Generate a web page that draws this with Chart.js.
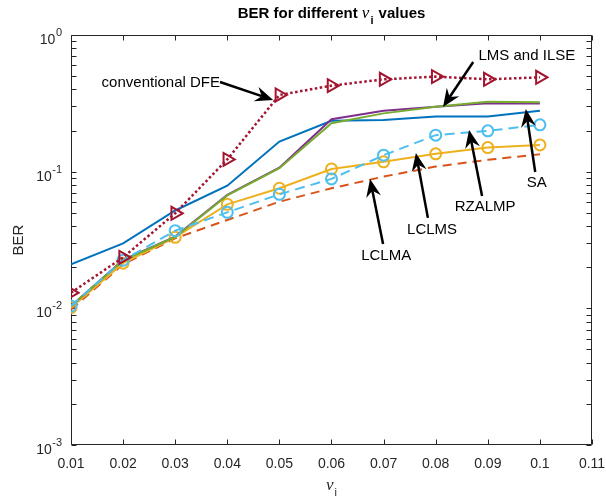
<!DOCTYPE html>
<html><head><meta charset="utf-8">
<script src="https://cdn.jsdelivr.net/npm/chart.js@4.4.1/dist/chart.umd.min.js"></script>
<style>html,body{margin:0;padding:0;background:#fff}#wrap{width:606px;height:502px;position:relative}</style>
</head><body>
<div id="wrap"><canvas id="c" width="606" height="502"></canvas></div>
<script>
// ---- data ----
const nuValues   = [0.01, 0.02, 0.03, 0.04, 0.05, 0.06, 0.07, 0.08, 0.09, 0.10];
const berSA      = [0.0210, 0.0299, 0.052, 0.079, 0.166, 0.236, 0.239, 0.253, 0.253, 0.279];
const berLCLMA   = [0.0098, 0.0210, 0.0325, 0.0443, 0.0603, 0.0756, 0.092, 0.109, 0.122, 0.134];
const berLCLMS   = [0.0101, 0.0214, 0.0331, 0.0577, 0.0756, 0.1047, 0.118, 0.135, 0.150, 0.157];
const berLMS     = [0.0104, 0.0226, 0.0335, 0.0676, 0.107, 0.242, 0.279, 0.299, 0.316, 0.316];
const berILSE    = [0.0104, 0.0224, 0.0333, 0.0670, 0.106, 0.226, 0.267, 0.299, 0.325, 0.322];
const berRZALMP  = [0.0104, 0.0225, 0.0370, 0.0504, 0.0683, 0.0885, 0.132, 0.185, 0.199, 0.220];
const berDFE     = [0.0130, 0.0236, 0.0496, 0.123, 0.364, 0.426, 0.474, 0.496, 0.474, 0.490];
const xTickValues = [0.01, 0.02, 0.03, 0.04, 0.05, 0.06, 0.07, 0.08, 0.09, 0.10, 0.11];
const xTickLabels = ['0.01','0.02','0.03','0.04','0.05','0.06','0.07','0.08','0.09','0.1','0.11'];
const yTickValues = [0.001, 0.01, 0.1, 1];
const yTickExponents = ['-3', '-2', '-1', '0'];
// annotations (data coordinates): label position, arrow tail, arrow tip
const annLabels = ['conventional DFE', 'LMS and ILSE', 'SA', 'RZALMP', 'LCLMS', 'LCLMA'];
const annText   = [[0.0386, 0.445, 'right'], [0.0975, 0.700, 'center'], [0.0994, 0.0825, 'center'], [0.0895, 0.0552, 'center'], [0.0793, 0.0375, 'center'], [0.0705, 0.0242, 'center']];
const annTail   = [[0.0386, 0.453], [0.0872, 0.635], [0.0991, 0.0995], [0.0889, 0.0664], [0.0785, 0.0459], [0.0699, 0.0296]];
const annTip    = [[0.0488, 0.3346], [0.0814, 0.2974], [0.0973, 0.2875], [0.0864, 0.2018], [0.0762, 0.137], [0.0674, 0.0884]];

const FONT = '"Liberation Sans", Arial, Helvetica, sans-serif';
const AX = '#262626';

function pts(arr){ return nuValues.map((x,i)=>({x:x, y:arr[i]})); }

const datasets = [
  {label:'SA', data:pts(berSA), borderColor:'#0072BD', borderWidth:2, pointRadius:0, order:7},
  {label:'LCLMA', data:pts(berLCLMA), borderColor:'#D95319', borderWidth:2, borderDash:[9,6], pointRadius:0, order:6},
  {label:'LCLMS', data:pts(berLCLMS), borderColor:'#EDB120', borderWidth:2, pointRadius:5.5, pointStyle:'circle', pointBorderWidth:2, pointBorderColor:'#EDB120', pointBackgroundColor:'rgba(0,0,0,0)', order:5},
  {label:'LMS', data:pts(berLMS), borderColor:'#7E2F8E', borderWidth:2, pointRadius:0, order:4},
  {label:'ILSE', data:pts(berILSE), borderColor:'#77AC30', borderWidth:2, pointRadius:0, order:3},
  {label:'RZALMP', data:pts(berRZALMP), borderColor:'#4DBEEE', borderWidth:2, borderDash:[10,6], pointRadius:5.5, pointStyle:'circle', pointBorderWidth:2, pointBorderColor:'#4DBEEE', pointBackgroundColor:'rgba(0,0,0,0)', order:2},
  {label:'conventional DFE', data:pts(berDFE), borderColor:'#A2142F', borderWidth:2.5, borderDash:[2.5,2.5], pointRadius:7.5, pointStyle:'triangle', rotation:90, pointBorderWidth:2, pointBorderColor:'#A2142F', pointBackgroundColor:'rgba(0,0,0,0)', order:1}
];

const frame = {
  id:'frame',
  beforeDatasetsDraw(chart){
    const ctx = chart.ctx, a = chart.chartArea, xs = chart.scales.x, ys = chart.scales.y;
    ctx.save();
    ctx.strokeStyle = AX; ctx.lineWidth = 1;
    const L = Math.round(a.left)+0.5, R = Math.round(a.right)-0.5, T = Math.round(a.top)+0.5, B = Math.round(a.bottom)-0.5;
    ctx.beginPath();
    ctx.rect(L, T, R-L, B-T);
    xTickValues.forEach(v=>{
      const px = Math.round(xs.getPixelForValue(v))+0.5;
      ctx.moveTo(px, B); ctx.lineTo(px, B-5);
      ctx.moveTo(px, T); ctx.lineTo(px, T+5);
    });
    for (let e=-3; e<=0; e++){
      for (let m=1; m<=9; m++){
        const v = m*Math.pow(10,e);
        if (v>1.0000001) break;
        const py = Math.round(ys.getPixelForValue(v))+0.5;
        ctx.moveTo(L, py); ctx.lineTo(L+5, py);
        ctx.moveTo(R, py); ctx.lineTo(R-5, py);
      }
    }
    ctx.stroke();
    ctx.fillStyle = AX;
    ctx.font = '14px '+FONT; ctx.textAlign='center'; ctx.textBaseline='middle';
    xTickValues.forEach((v,i)=>{ ctx.fillText(xTickLabels[i], xs.getPixelForValue(v), a.bottom+19); });
    yTickValues.forEach((v,i)=>{
      const py = ys.getPixelForValue(v);
      ctx.font = '11px '+FONT;
      const ew = ctx.measureText(yTickExponents[i]).width;
      ctx.textAlign='right'; ctx.textBaseline='middle';
      ctx.fillText(yTickExponents[i], a.left-9, py-2);
      ctx.font = '14px '+FONT;
      ctx.fillText('10', a.left-9-ew-0.5, py+5);
    });
    ctx.save();
    ctx.translate(19, (a.top+a.bottom)/2);
    ctx.rotate(-Math.PI/2);
    ctx.font = '15px '+FONT; ctx.textAlign='center'; ctx.textBaseline='middle';
    ctx.fillText('BER', 0, 0);
    ctx.restore();
    const cx = (a.left+a.right)/2;
    ctx.textAlign='left'; ctx.textBaseline='middle';
    ctx.font = 'italic 17px "Liberation Serif", "DejaVu Serif", serif';
    const nw = ctx.measureText('ν').width;
    ctx.font = '11px '+FONT;
    const iw = ctx.measureText('i').width;
    let sx = cx - (nw+iw+1)/2;
    ctx.font = 'italic 17px "Liberation Serif", "DejaVu Serif", serif';
    ctx.fillText('ν', sx, a.bottom+41);
    ctx.font = '11px '+FONT;
    ctx.fillText('i', sx+nw+1, a.bottom+48);
    ctx.fillStyle = '#000';
    const t1 = 'BER for different ', t2 = ' values';
    ctx.font = 'bold 15px '+FONT;
    const w1 = ctx.measureText(t1).width, w2 = ctx.measureText(t2).width;
    ctx.font = 'italic 17px "Liberation Serif", "DejaVu Serif", serif';
    const wn = ctx.measureText('ν').width;
    ctx.font = 'bold 11px '+FONT;
    const wi = ctx.measureText('i').width;
    let tx = cx - (w1+wn+wi+2+w2)/2, ty = 14;
    ctx.font = 'bold 15px '+FONT; ctx.fillText(t1, tx, ty); tx += w1;
    ctx.font = 'italic 17px "Liberation Serif", "DejaVu Serif", serif'; ctx.fillText('ν', tx, ty); tx += wn+1;
    ctx.font = 'bold 11px '+FONT; ctx.fillText('i', tx, ty+7); tx += wi+1;
    ctx.font = 'bold 15px '+FONT; ctx.fillText(t2, tx, ty);
    ctx.restore();
  },
  afterDatasetsDraw(chart){
    const ctx = chart.ctx, xs = chart.scales.x, ys = chart.scales.y;
    ctx.save();
    ctx.fillStyle = '#000'; ctx.strokeStyle = '#000';
    ctx.font = '15px '+FONT; ctx.textBaseline='middle';
    annLabels.forEach((lab,i)=>{
      const t = annText[i];
      ctx.textAlign = t[2];
      ctx.fillText(lab, xs.getPixelForValue(t[0]), ys.getPixelForValue(t[1]));
      const x0 = xs.getPixelForValue(annTail[i][0]), y0 = ys.getPixelForValue(annTail[i][1]);
      const x1 = xs.getPixelForValue(annTip[i][0]), y1 = ys.getPixelForValue(annTip[i][1]);
      const ang = Math.atan2(y1-y0, x1-x0);
      const hl = 18, hw = 7.5, back = 12;
      const bx = x1 - Math.cos(ang)*back, by = y1 - Math.sin(ang)*back;
      ctx.lineWidth = 2.5;
      ctx.beginPath(); ctx.moveTo(x0,y0); ctx.lineTo(bx,by); ctx.stroke();
      const px = -Math.sin(ang), py = Math.cos(ang);
      const hx = x1 - Math.cos(ang)*hl, hy = y1 - Math.sin(ang)*hl;
      ctx.beginPath();
      ctx.moveTo(x1,y1);
      ctx.lineTo(hx+px*hw, hy+py*hw);
      ctx.lineTo(bx, by);
      ctx.lineTo(hx-px*hw, hy-py*hw);
      ctx.closePath(); ctx.fill();
    });
    ctx.restore();
  }
};

new Chart(document.getElementById('c'), {
  type:'line',
  data:{datasets:datasets},
  options:{
    responsive:false, animation:false, devicePixelRatio:1,
    layout:{padding:{left:71, right:14, top:35, bottom:57}},
    plugins:{legend:{display:false}, tooltip:{enabled:false}, title:{display:false}},
    elements:{line:{tension:0, borderCapStyle:'butt'}},
    scales:{
      x:{type:'linear', min:0.01, max:0.11, ticks:{display:false}, grid:{display:false}, border:{display:false},
         afterFit(s){ s.height = 0; }},
      y:{type:'logarithmic', min:0.001, max:1, ticks:{display:false}, grid:{display:false}, border:{display:false},
         afterFit(s){ s.width = 0; }}
    }
  },
  plugins:[frame]
});
</script>
</body></html>
